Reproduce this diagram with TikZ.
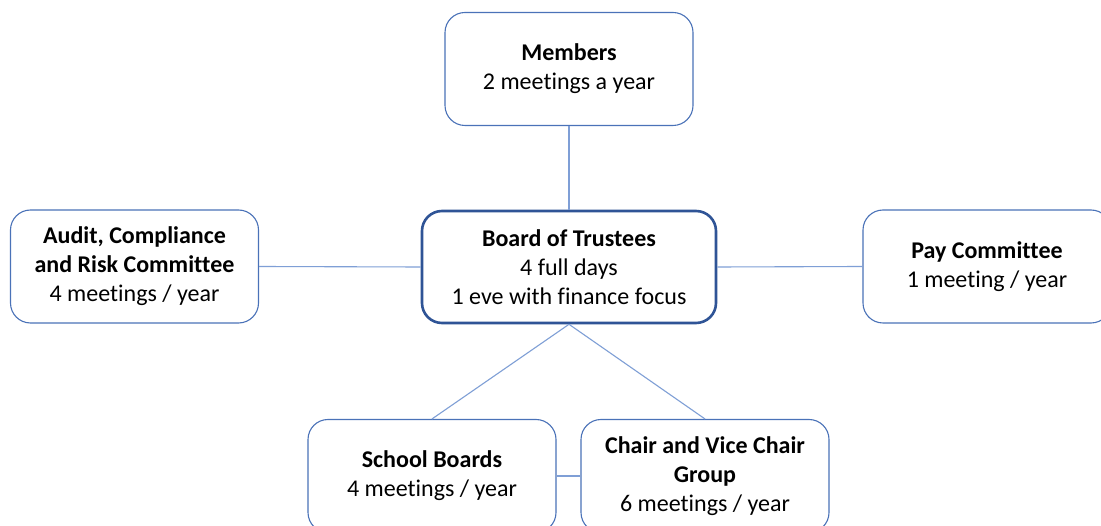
\documentclass[tikz,border=0pt]{standalone}
\usepackage{fontspec}
\setmainfont{Carlito}[Ligatures=NoCommon]
\definecolor{boxblue}{HTML}{4A72B8}
\definecolor{mainblue}{HTML}{2F5496}
\definecolor{lineblue}{HTML}{7F9FD6}
\begin{document}
\begin{tikzpicture}[x=1pt,y=-1pt,
  orgbox/.style={draw=boxblue, line width=1.1pt, rounded corners=20pt, fill=white,
    minimum width=248pt, minimum height=113pt, align=center, inner sep=0pt,
    font=\fontsize{24}{29}\selectfont, text=black},
  mainbox/.style={orgbox, draw=mainblue, line width=2.6pt, minimum width=294pt, minimum height=112pt},
  conn/.style={draw=lineblue, line width=1.1pt}]
\useasboundingbox (0,0) rectangle (1101,526);
\clip (0,0) rectangle (1101,526);
\fill[white] (0,0) rectangle (1101,526);
\node[orgbox] (members) at (569,69) {\textbf{Members}\\2 meetings a year};
\node[mainbox] (board) at (569,267) {\textbf{Board of Trustees}\\4 full days\\1 eve with finance focus};
\node[orgbox] (audit) at (134.5,266.5) {\textbf{Audit, Compliance}\\\textbf{and Risk Committee}\\4 meetings / year};
\node[orgbox] (pay) at (987,266.5) {\textbf{Pay Committee}\\1 meeting / year};
\node[orgbox] (school) at (432,476) {\textbf{School Boards}\\4 meetings / year};
\node[orgbox] (chair) at (705,476) {\textbf{Chair and Vice Chair}\\\textbf{Group}\\6 meetings / year};
\draw[conn] (members.south) -- (board.north);
\draw[conn] (audit.east) -- (board.west);
\draw[conn] (board.east) -- (pay.west);
\draw[conn] (board.south) -- (school.north);
\draw[conn] (board.south) -- (chair.north);
\draw[conn] (school.east) -- (chair.west);
\end{tikzpicture}
\end{document}
